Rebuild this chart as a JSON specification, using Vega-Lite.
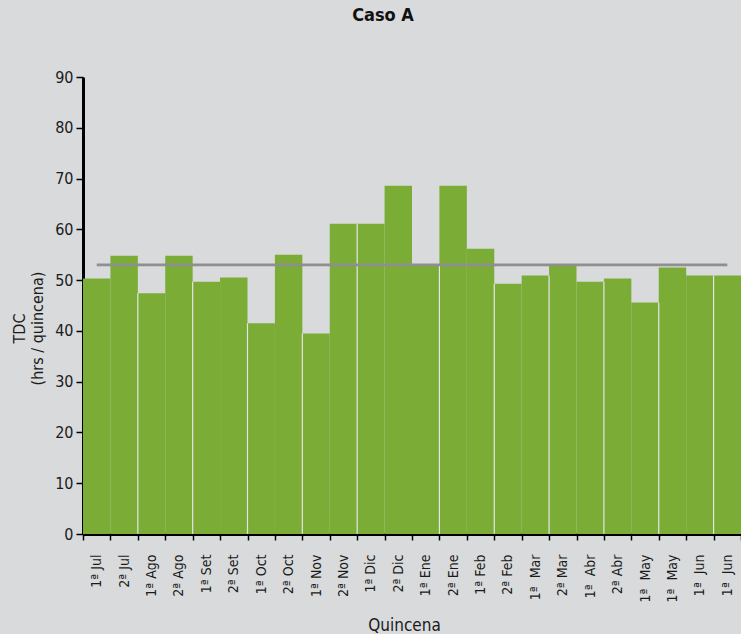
{
  "$schema": "https://vega.github.io/schema/vega-lite/v6.json",
  "autosize": {"type": "none"},
  "width": 658,
  "height": 457,
  "padding": {"left": 83, "top": 77, "right": 0, "bottom": 100},
  "background": "#d9dadc",
  "config": {
    "view": {"stroke": null},
    "font": "'DejaVu Sans Condensed', Roboto, sans-serif",
    "axis": {"labelFont": "'DejaVu Sans Condensed', Roboto, sans-serif", "titleFont": "'DejaVu Sans Condensed', Roboto, sans-serif"}
  },
  "title": {
    "text": "Caso A",
    "font": "'DejaVu Sans Condensed', Roboto, sans-serif",
    "fontSize": 18,
    "fontWeight": "bold",
    "color": "#111111",
    "anchor": "middle",
    "dx": -29,
    "offset": 44
  },
  "data": {
    "values": [
      {"quincena": "1ª Jul", "tdc": 50.3, "grupo": 1},
      {"quincena": "2ª Jul", "tdc": 54.8, "grupo": 1},
      {"quincena": "1ª Ago", "tdc": 47.4, "grupo": 2},
      {"quincena": "2ª Ago", "tdc": 54.8, "grupo": 2},
      {"quincena": "1ª Set", "tdc": 49.7, "grupo": 3},
      {"quincena": "2ª Set", "tdc": 50.5, "grupo": 3},
      {"quincena": "1ª Oct", "tdc": 41.5, "grupo": 4},
      {"quincena": "2ª Oct", "tdc": 55.0, "grupo": 4},
      {"quincena": "1ª Nov", "tdc": 39.5, "grupo": 5},
      {"quincena": "2ª Nov", "tdc": 61.1, "grupo": 5},
      {"quincena": "1ª Dic", "tdc": 61.1, "grupo": 6},
      {"quincena": "2ª Dic", "tdc": 68.6, "grupo": 6},
      {"quincena": "1ª Ene", "tdc": 53.1, "grupo": 6},
      {"quincena": "2ª Ene", "tdc": 68.6, "grupo": 7},
      {"quincena": "1ª Feb", "tdc": 56.2, "grupo": 7},
      {"quincena": "2ª Feb", "tdc": 49.3, "grupo": 8},
      {"quincena": "1ª\u00a0 Mar", "tdc": 50.9, "grupo": 8},
      {"quincena": "2ª Mar", "tdc": 52.8, "grupo": 9},
      {"quincena": "1ª\u00a0 Abr", "tdc": 49.7, "grupo": 9},
      {"quincena": "2ª Abr", "tdc": 50.3, "grupo": 10},
      {"quincena": "1ª\u00a0 May", "tdc": 45.6, "grupo": 10},
      {"quincena": "1ª \u00a0May", "tdc": 52.5, "grupo": 11},
      {"quincena": "1ª\u00a0 Jun", "tdc": 50.9, "grupo": 11},
      {"quincena": "1ª \u00a0Jun", "tdc": 50.9, "grupo": 12}
    ]
  },
  "encoding": {
    "x": {
      "field": "quincena",
      "type": "nominal",
      "sort": null,
      "scale": {"paddingInner": 0, "paddingOuter": 0},
      "axis": {
        "title": "Quincena",
        "titleFontSize": 17,
        "titleFontWeight": "normal",
        "titleColor": "#1a1a1a",
        "titleX": 321,
        "titleY": 96,
        "titleBaseline": "alphabetic",
        "labelAngle": 270,
        "labelAlign": "right",
        "labelBaseline": "middle",
        "labelFontSize": 14,
        "labelColor": "#1a1a1a",
        "labelPadding": 14,
        "tickBand": "extent",
        "tickSize": 6,
        "tickWidth": 1.5,
        "tickColor": "#000000",
        "domainColor": "#000000",
        "domainWidth": 3
      }
    }
  },
  "layer": [
    {
      "mark": {"type": "bar", "color": "#7aac36", "strokeWidth": 0},
      "encoding": {
        "y": {
          "field": "tdc",
          "type": "quantitative",
          "scale": {"domain": [0, 90], "nice": false},
          "axis": {
            "title": ["TDC", "(hrs / quincena)"],
            "titleFontSize": 16,
            "titleFontWeight": "normal",
            "titleColor": "#1a1a1a",
            "titleLineHeight": 18,
            "titleX": -72,
            "titleY": 251,
            "titleAngle": 270,
            "titleAlign": "center",
            "titleBaseline": "top",
            "values": [0, 10, 20, 30, 40, 50, 60, 70, 80, 90],
            "labelFontSize": 16,
            "labelColor": "#1a1a1a",
            "labelPadding": 3,
            "tickSize": 7,
            "tickWidth": 1.5,
            "tickColor": "#000000",
            "domainColor": "#000000",
            "domainWidth": 3,
            "grid": false
          }
        }
      }
    },
    {
      "transform": [
        {"window": [{"op": "lag", "field": "grupo", "as": "g0"}, {"op": "lag", "field": "tdc", "as": "t0"}]},
        {"filter": "datum.g0 != null && datum.g0 != datum.grupo"},
        {"calculate": "min(datum.tdc, datum.t0)", "as": "tope"}
      ],
      "mark": {"type": "rule", "color": "#e3e4e5", "strokeWidth": 1.2},
      "encoding": {
        "x": {"field": "quincena", "type": "nominal", "sort": null, "bandPosition": 0},
        "y": {"field": "tope", "type": "quantitative"},
        "y2": {"datum": 0}
      }
    },
    {
      "mark": {"type": "line", "color": "#8f8f8f", "strokeWidth": 2.8},
      "encoding": {
        "y": {"datum": 53}
      }
    }
  ]
}
